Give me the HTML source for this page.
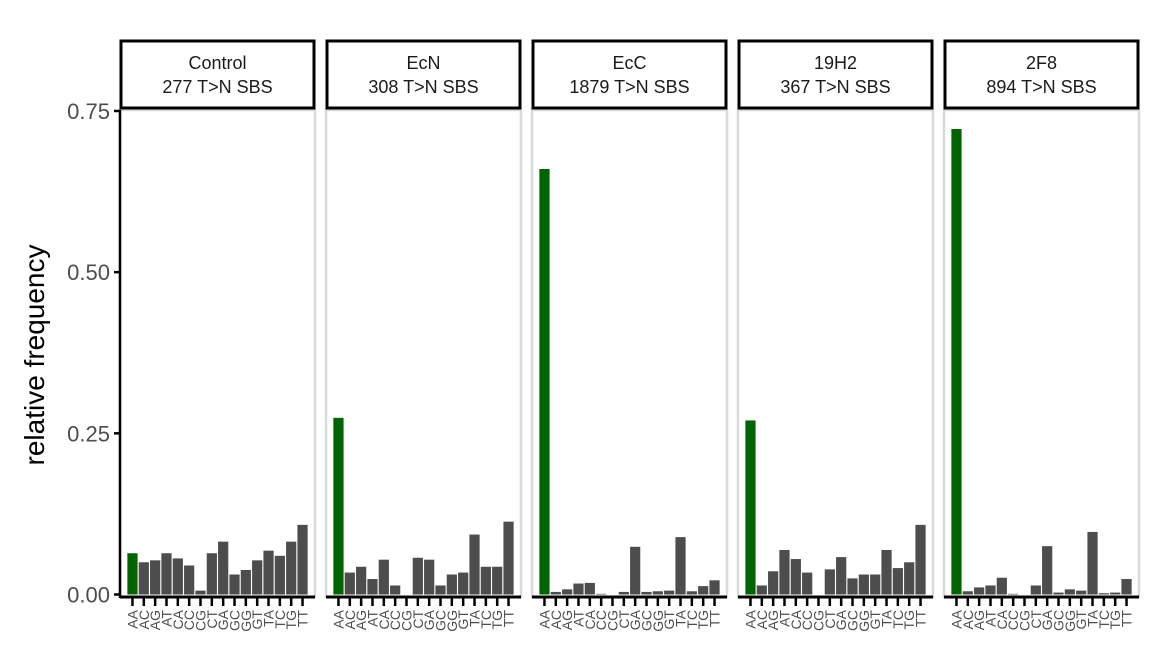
<!DOCTYPE html>
<html><head><meta charset="utf-8"><style>
body{margin:0;background:#fff;}
svg text{font-family:"Liberation Sans",sans-serif;}
</style></head><body>
<svg id="chart" width="1161" height="661" xmlns="http://www.w3.org/2000/svg"></svg>
<script>
const categories=["AA","AC","AG","AT","CA","CC","CG","CT","GA","GC","GG","GT","TA","TC","TG","TT"];
const panelTitles=["Control","EcN","EcC","19H2","2F8"];
const panelCounts=["277 T>N SBS","308 T>N SBS","1879 T>N SBS","367 T>N SBS","894 T>N SBS"];
const controlValues=[0.064,0.050,0.053,0.064,0.056,0.045,0.006,0.064,0.082,0.031,0.038,0.053,0.068,0.060,0.082,0.108];
const ecnValues=[0.274,0.034,0.043,0.024,0.054,0.014,0.0,0.057,0.054,0.014,0.031,0.034,0.093,0.043,0.043,0.113];
const eccValues=[0.660,0.004,0.008,0.017,0.018,0.001,0.0,0.004,0.074,0.004,0.005,0.006,0.089,0.005,0.013,0.022];
const h19Values=[0.270,0.014,0.036,0.069,0.055,0.034,0.0,0.039,0.058,0.025,0.031,0.031,0.069,0.041,0.050,0.108];
const f28Values=[0.722,0.005,0.011,0.014,0.026,0.001,0.0,0.014,0.075,0.003,0.008,0.006,0.097,0.002,0.003,0.024];
const yTicks=[0,0.25,0.5,0.75];
const yTickLabels=["0.00","0.25","0.50","0.75"];
const series=[controlValues,ecnValues,eccValues,h19Values,f28Values];

const svgEl=document.getElementById('chart');
const NS="http://www.w3.org/2000/svg";
function mk(tag,attrs,parent){const e=document.createElementNS(NS,tag);for(const k in attrs)e.setAttribute(k,attrs[k]);(parent||svgEl).appendChild(e);return e;}
const y0=594.5, pxPerUnit=644.7;
function yScale(v){return y0-v*pxPerUnit;}
const panelLeft=[120,326,532,738,944], panelW=195, plotTop=110;
const step=panelW/(categories.length+1.2);
function xScale(p,i){return panelLeft[p]+step*(0.6+i+0.5);}

panelLeft.forEach((L,p)=>{
  const g=mk('g',{});
  
  
  const bd=mk('rect',{x:L,y:plotTop,width:panelW,height:597-plotTop,fill:'none',stroke:'#d9d9d9','stroke-width':2.5},g);
  
  
  const st=mk('rect',{x:L+1,y:41,width:panelW-2,height:67,fill:'#fff',stroke:'#000','stroke-width':3},g);
  
  
  const t1=mk('text',{x:L+panelW/2,y:69,'text-anchor':'middle','font-size':18,fill:'#1a1a1a'},g);
  t1.textContent=panelTitles[p];
  
  
  const t2=mk('text',{x:L+panelW/2,y:93,'text-anchor':'middle','font-size':18,fill:'#1a1a1a'},g);
  t2.textContent=panelCounts[p];
  
  
  series[p].forEach((v,i)=>{
    const cx=xScale(p,i), bw=step*0.9;
    const b=mk('rect',{x:cx-bw/2,y:yScale(v),width:bw,height:Math.max(0,y0-yScale(v)),fill:i===0?'#006400':'#4d4d4d'},g);
    
    
    const tk=mk('line',{x1:cx,x2:cx,y1:597,y2:606,stroke:'#000','stroke-width':2.5},g);
    
    
    const lb=mk('text',{x:0,y:0,transform:'translate('+(cx+5)+',610) rotate(-90)','text-anchor':'end','font-size':14,fill:'#4d4d4d'},g);
    lb.textContent=categories[i];
    
    
  });
  const ax=mk('line',{x1:L,x2:L+panelW,y1:597,y2:597,stroke:'#000','stroke-width':3},g);
  
  
});

const yaxis=mk('line',{x1:120,y1:plotTop,x2:120,y2:598,stroke:'#000','stroke-width':2.5});


yTicks.forEach((t,i)=>{
  const tk=mk('line',{x1:114,x2:120,y1:yScale(t),y2:yScale(t),stroke:'#000','stroke-width':2.5});
  
  
  const tl=mk('text',{x:110,y:yScale(t)+8,'text-anchor':'end','font-size':22,fill:'#4d4d4d'});
  tl.textContent=yTickLabels[i];
  
  
});
const yt=mk('text',{x:0,y:0,transform:'translate(44,355) rotate(-90)','text-anchor':'middle','font-size':28,fill:'#000'});
yt.textContent='relative frequency';


</script>
</body></html>
